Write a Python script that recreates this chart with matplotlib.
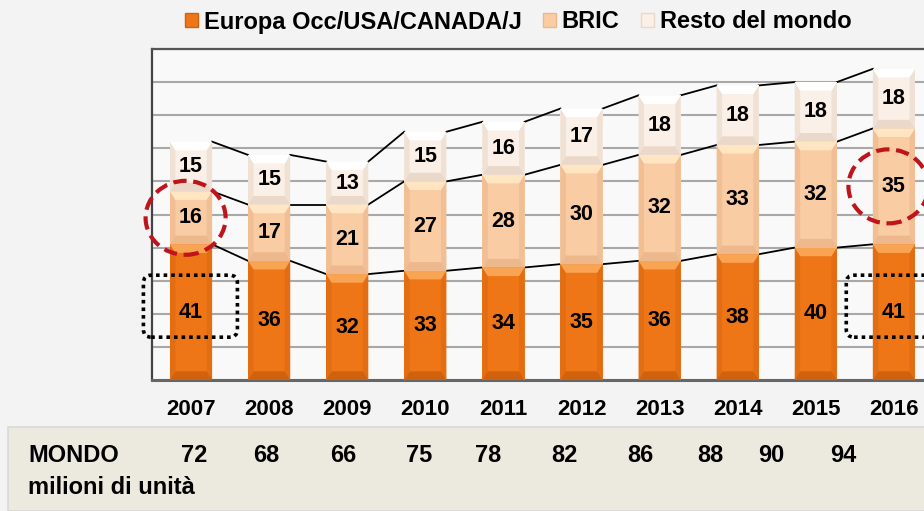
import matplotlib
matplotlib.use("Agg")
import matplotlib.pyplot as plt
from matplotlib.patches import Polygon, Rectangle, Ellipse, FancyBboxPatch, Patch
import numpy as np

plt.rcParams['font.family'] = ['Liberation Sans', 'DejaVu Sans']

# ---- data ----
years = ['2007', '2008', '2009', '2010', '2011', '2012', '2013', '2014', '2015', '2016']
europa = [41, 36, 32, 33, 34, 35, 36, 38, 40, 41]
bric = [16, 17, 21, 27, 28, 30, 32, 33, 32, 35]
resto = [15, 15, 13, 15, 16, 17, 18, 18, 18, 18]
mondo = [72, 68, 66, 75, 78, 82, 86, 88, 90, 94]
series_names = ['Europa Occ/USA/CANADA/J', 'BRIC', 'Resto del mondo']
circled = [0, 9]     # BRIC segments circled
boxed = [0, 9]       # Europa segments boxed

# ---- style ----
W, H = 924, 511
fig = plt.figure(figsize=(W / 100, H / 100), dpi=100)
fig.patch.set_facecolor('#f3f3f3')

styles = [
    dict(base='#EF7617', top='#F9A453', bot='#D0620E', side='#E26D12'),
    dict(base='#F9CCA4', top='#FFE5C2', bot='#EDB88C', side='#F1BF93'),
    dict(base='#FBF0E7', top='#FFFFFF', bot='#EAD8C9', side='#F0E1D5'),
]

# beige table band
fig.patches.append(Rectangle((8 / W, 0), 1, (H - 427) / H, transform=fig.transFigure,
                             facecolor='#ECE9DF', edgecolor='#d9d9d9', lw=1.2, zorder=0))

ax = fig.add_axes([152 / W, 1 - 380 / H, 1 - 152 / W, (380 - 49) / H])
ax.set_facecolor('#f9f9f9')
x = np.arange(len(years))
bw = 0.54
ax.set_xlim(-0.5, (W - 191) / 78.1)
ax.set_ylim(0, 100)

ax.set_yticks(np.arange(0, 101, 10))
ax.yaxis.grid(True, color='#a8a8a8', lw=1.5, zorder=0)
ax.set_axisbelow(True)
ax.tick_params(axis='y', left=False, labelleft=False)
ax.tick_params(axis='x', bottom=False, pad=10)
ax.set_xticks(x)
ax.set_xticklabels(years, fontsize=16, fontweight='bold')
ax.spines['right'].set_visible(False)
ax.spines['top'].set_color('#555555'); ax.spines['top'].set_linewidth(1.6)
ax.spines['left'].set_color('#444444'); ax.spines['left'].set_linewidth(1.6)
ax.spines['bottom'].set_color('#666666'); ax.spines['bottom'].set_linewidth(2.2)

stacks = [europa, bric, resto]
bottoms = np.zeros(len(years))
bx, by = 0.07, 2.6
for si, vals in enumerate(stacks):
    st = styles[si]
    vals = np.array(vals, dtype=float)
    ax.bar(x, vals, bw, bottom=bottoms, color=st['base'], zorder=3, lw=0)
    for xi, v, b0 in zip(x, vals, bottoms):
        x0, x1 = xi - bw / 2, xi + bw / 2
        y0, y1 = b0, b0 + v
        polys = [
            ([(x0, y0), (x0 + bx, y0 + by), (x0 + bx, y1 - by), (x0, y1)], st['side']),
            ([(x1, y0), (x1 - bx, y0 + by), (x1 - bx, y1 - by), (x1, y1)], st['side']),
            ([(x0, y0), (x1, y0), (x1 - bx, y0 + by), (x0 + bx, y0 + by)], st['bot']),
            ([(x0, y1), (x1, y1), (x1 - bx, y1 - by), (x0 + bx, y1 - by)], st['top']),
        ]
        for pts, c in polys:
            ax.add_patch(Polygon(pts, closed=True, facecolor=c, edgecolor='none', zorder=4))
        ax.text(xi, b0 + v / 2, f'{int(v)}', ha='center', va='center',
                fontsize=15.5, fontweight='bold', color='black', zorder=6)
    # series lines
    tops = bottoms + vals
    for i in range(len(x) - 1):
        ax.plot([x[i] + bw / 2, x[i + 1] - bw / 2], [tops[i], tops[i + 1]],
                color='black', lw=1.3, zorder=2.5)
    bottoms = tops

# annotations
px_per_x = 78.1
px_per_y = (380 - 49) / 100
for i in circled:
    cy = europa[i] + bric[i] / 2
    ax.add_patch(Ellipse((x[i] - 0.07, cy), 80 / px_per_x, 74 / px_per_y, fill=False,
                         edgecolor='#C0141C', lw=3.0, linestyle=(0, (3.2, 1.6)),
                         zorder=7, clip_on=False))
for i in boxed:
    cy = europa[i] / 2 + 1.8
    hgt = 62 / px_per_y
    wid = 94 / px_per_x
    ax.add_patch(FancyBboxPatch((x[i] - 0.61, cy - hgt / 2), wid, hgt,
                                boxstyle='round,pad=0,rounding_size=0.1',
                                mutation_aspect=px_per_x / px_per_y,
                                fill=False, edgecolor='black', lw=2.6,
                                linestyle=(0, (1, 1.1)), zorder=7, clip_on=False))

# legend
handles = [Patch(facecolor=styles[i]['base'], edgecolor=styles[i]['bot'], lw=1.0)
           for i in range(3)]
fig.legend(handles, series_names, loc='center', bbox_to_anchor=(518 / W, 1 - 22 / H),
           ncol=3, frameon=False, prop=dict(size=17, weight='bold'),
           handlelength=0.55, handleheight=0.55, handletextpad=0.25, columnspacing=0.9)

# table row
fig.text(28 / W, 1 - 456 / H, 'MONDO', fontsize=17, fontweight='bold', va='center', ha='left')
fig.text(28 / W, 1 - 488 / H, 'milioni di unità', fontsize=17, fontweight='bold',
         va='center', ha='left')
mondo_px = [194, 266, 343, 419, 488, 564, 640, 710, 771, 843]
for v, px in zip(mondo, mondo_px):
    fig.text(px / W, 1 - 456 / H, str(v), fontsize=17, fontweight='bold',
             va='center', ha='center')

fig.savefig('out.png', dpi=100, facecolor=fig.get_facecolor())
